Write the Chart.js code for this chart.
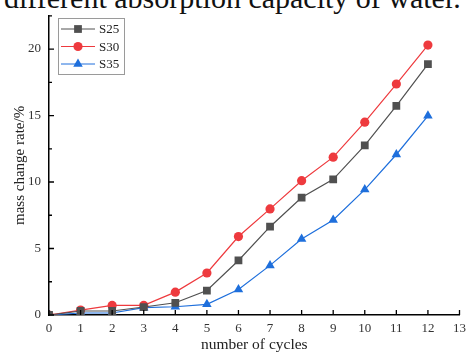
<!DOCTYPE html>
<html>
<head>
<meta charset="utf-8">
<script src="https://cdn.jsdelivr.net/npm/chart.js@4/dist/chart.umd.min.js"></script>
<style>
  html, body { margin: 0; padding: 0; background: #fff; }
  #wrap { position: relative; width: 472px; height: 354px; overflow: hidden; }
  #head { position: absolute; left: 4px; top: -17px; font: 30px "Liberation Serif", serif; line-height: 30px; color: #111; white-space: nowrap; }
  canvas { position: absolute; left: 0; top: 0; }
</style>
</head>
<body>
<div id="wrap">
  <div id="head">different absorption capacity of water.</div>
  <canvas id="myChart" width="472" height="354"></canvas>
</div>
<script>
let cycles = [0, 1, 2, 3, 4, 5, 6, 7, 8, 9, 10, 11, 12]
let s25 = [0, 0.3, 0.3, 0.6, 0.92, 1.84, 4.1, 6.64, 8.83, 10.2, 12.76, 15.72, 18.86]
let s30 = [0, 0.37, 0.72, 0.72, 1.72, 3.16, 5.9, 7.98, 10.1, 11.87, 14.5, 17.37, 20.3]
let s35 = [0, 0.15, 0.15, 0.55, 0.62, 0.8, 1.92, 3.73, 5.72, 7.14, 9.43, 12.07, 14.98]
let seriesNames = ["S25", "S30", "S35"]
let yTickLabels = [0, 5, 10, 15, 20]

const serif = "'Liberation Serif', 'DejaVu Serif', serif"

function toPoints(values) {
    return values.map((v, i) => ({ x: cycles[i], y: v }))
}

// legend with a line through the marker, like the original
const lineLegend = {
    id: 'lineLegend',
    afterDraw(chart) {
        const ctx = chart.ctx
        ctx.save()
        ctx.strokeStyle = '#9a9a9a'
        ctx.lineWidth = 1
        ctx.strokeRect(58.5, 18.5, 66, 56)
        chart.data.datasets.forEach((ds, i) => {
            const y = 29 + i * 17.5
            ctx.strokeStyle = ds.borderColor
            ctx.lineWidth = 1
            ctx.beginPath()
            ctx.moveTo(61, y)
            ctx.lineTo(95, y)
            ctx.stroke()
            ctx.fillStyle = ds.pointBackgroundColor
            ctx.strokeStyle = ds.pointBackgroundColor
            Chart.helpers.drawPoint(ctx, { pointStyle: ds.pointStyle, radius: ds.pointRadius, borderWidth: 0 }, 78, y)
            ctx.fillStyle = '#222'
            ctx.font = "13px " + serif
            ctx.textBaseline = 'middle'
            ctx.fillText(ds.label, 99, y + 1)
        })
        ctx.restore()
    }
}

// tick marks pointing into the plot
const innerTicks = {
    id: 'innerTicks',
    afterDraw(chart) {
        const ctx = chart.ctx
        const xs = chart.scales.x, ys = chart.scales.y
        ctx.save()
        ctx.strokeStyle = '#000'
        ctx.lineWidth = 1.3
        ctx.beginPath()
        for (let i = 0; i <= 13; i++) {
            const px = xs.getPixelForValue(i)
            ctx.moveTo(px, xs.top)
            ctx.lineTo(px, xs.top - 5)
        }
        for (let v = 0; v <= 22.5; v += 2.5) {
            const py = ys.getPixelForValue(v)
            const len = v % 5 === 0 ? 5 : 3
            ctx.moveTo(ys.right, py)
            ctx.lineTo(ys.right + len, py)
        }
        ctx.stroke()
        ctx.restore()
    }
}

const ctx = document.getElementById('myChart')
new Chart(ctx, {
    type: 'line',
    data: {
        datasets: [
            {
                label: seriesNames[0],
                data: toPoints(s25),
                borderColor: '#505050',
                pointBackgroundColor: '#505050',
                pointBorderWidth: 0,
                pointStyle: 'rect',
                pointRadius: 5.5,
                borderWidth: 1.2
            },
            {
                label: seriesNames[1],
                data: toPoints(s30),
                borderColor: '#ee3a3e',
                pointBackgroundColor: '#ee3a3e',
                pointBorderWidth: 0,
                pointStyle: 'circle',
                pointRadius: 4.6,
                borderWidth: 1.2
            },
            {
                label: seriesNames[2],
                data: toPoints(s35),
                borderColor: '#1e6fdc',
                pointBackgroundColor: '#1e6fdc',
                pointBorderWidth: 0,
                pointStyle: 'triangle',
                pointRadius: 5.5,
                borderWidth: 1.2
            }
        ]
    },
    options: {
        responsive: false,
        animation: false,
        layout: { padding: { top: 14, right: 7, left: 0, bottom: 0 } },
        plugins: { legend: { display: false }, tooltip: { enabled: false } },
        scales: {
            x: {
                type: 'linear',
                min: 0,
                max: 13,
                grid: { display: false, drawTicks: false },
                border: { display: true, color: '#000', width: 1.5 },
                ticks: {
                    stepSize: 1,
                    padding: 6,
                    color: '#333',
                    font: { family: serif, size: 13 },
                    maxRotation: 0
                },
                title: {
                    display: true,
                    text: 'number of cycles',
                    color: '#222',
                    font: { family: serif, size: 15.5 },
                    padding: { top: 0, bottom: 0 }
                },
                afterFit(scale) { scale.height = 39 }
            },
            y: {
                min: 0,
                max: 22.5,
                grid: { display: false, drawTicks: false },
                border: { display: true, color: '#000', width: 1.5 },
                ticks: {
                    stepSize: 2.5,
                    padding: 8,
                    color: '#333',
                    font: { family: serif, size: 13 },
                    callback: v => yTickLabels.includes(v) ? v : ''
                },
                title: {
                    display: true,
                    text: 'mass change rate/%',
                    color: '#222',
                    font: { family: serif, size: 15 },
                    padding: { top: 11, bottom: 0 }
                },
                afterFit(scale) { scale.width = 49 }
            }
        }
    },
    plugins: [lineLegend, innerTicks]
})
</script>
</body>
</html>
